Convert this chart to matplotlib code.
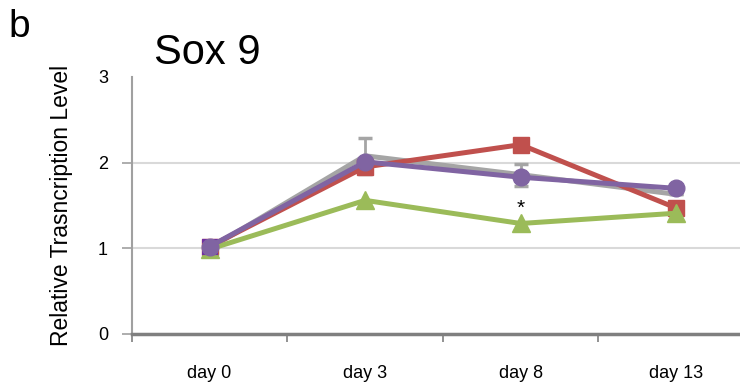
import matplotlib.pyplot as plt
import numpy as np

plt.rcParams['font.family'] = ['Liberation Sans', 'DejaVu Sans']

days = ['day 0', 'day 3', 'day 8', 'day 13']

# relative transcription level per group
gray_vals = [1.00, 2.08, 1.86, 1.63]
gray_err = [0.0, 0.21, 0.13, 0.0]
red_vals = [1.02, 1.95, 2.21, 1.47]
red_err = [0.0, 0.08, 0.0, 0.0]
green_vals = [0.99, 1.56, 1.29, 1.41]
purple_vals = [1.02, 2.01, 1.83, 1.70]
purple_err = [0.07, 0.0, 0.0, 0.0]

x = np.arange(len(days))

fig = plt.figure(figsize=(7.4, 3.9), dpi=100)
ax = fig.add_axes([0.178, 0.1436, 0.841, 0.659])

lw = 3.6
ax.errorbar(x, gray_vals, yerr=gray_err, color='#A5A5A5', lw=lw,
            ecolor='#A5A5A5', elinewidth=2, capsize=5, capthick=2.5, zorder=3)
ax.errorbar(x, red_vals, yerr=red_err, color='#C0504D', lw=lw, marker='s',
            ms=12, ecolor='#E6A5A4', elinewidth=2, capsize=5, capthick=2, zorder=4)
ax.plot(x, green_vals, color='#9BBB59', lw=lw, marker='^', ms=13, zorder=5)
ax.errorbar(x, purple_vals, yerr=purple_err, color='#8064A2', lw=lw, marker='o',
            ms=12, ecolor='#7030A0', elinewidth=2, capsize=6, capthick=3, zorder=6)

ax.text(x[2], 1.47, '*', ha='center', va='center', fontsize=15)

ax.set_xlim(-0.5, 3.5)
ax.set_ylim(0, 3)
ax.set_yticks([0, 1, 2, 3])
ax.set_xticks(x)
ax.set_xticklabels(days, fontsize=13)
ax.set_xticks(np.arange(-0.5, 3.6, 1), minor=True)
ax.tick_params(axis='x', which='major', length=0, pad=22)
ax.tick_params(axis='x', which='minor', length=6, width=1.2, color='#7F7F7F')
ax.tick_params(axis='y', length=7, width=1.2, color='#A0A0A0', labelsize=13, pad=10)

ax.grid(axis='y', color='#D9D9D9', lw=1.5)
ax.set_axisbelow(True)
# no gridline or tick at the top of the scale
ax.yaxis.get_gridlines()[-1].set_visible(False)
ax.yaxis.get_major_ticks()[-1].tick1line.set_visible(False)
for side in ['top', 'right']:
    ax.spines[side].set_visible(False)
ax.spines['left'].set_color('#A0A0A0')
ax.spines['left'].set_linewidth(1.5)
ax.spines['bottom'].set_color('#7F7F7F')
ax.spines['bottom'].set_linewidth(2.5)

ax.set_ylabel('Relative Trasncription Level', fontsize=16.5, labelpad=18)
fig.text(0.208, 0.865, 'Sox 9', fontsize=30, va='center')
fig.text(0.012, 0.93, 'b', fontsize=28, va='center')

fig.savefig('out.png', dpi=100)
